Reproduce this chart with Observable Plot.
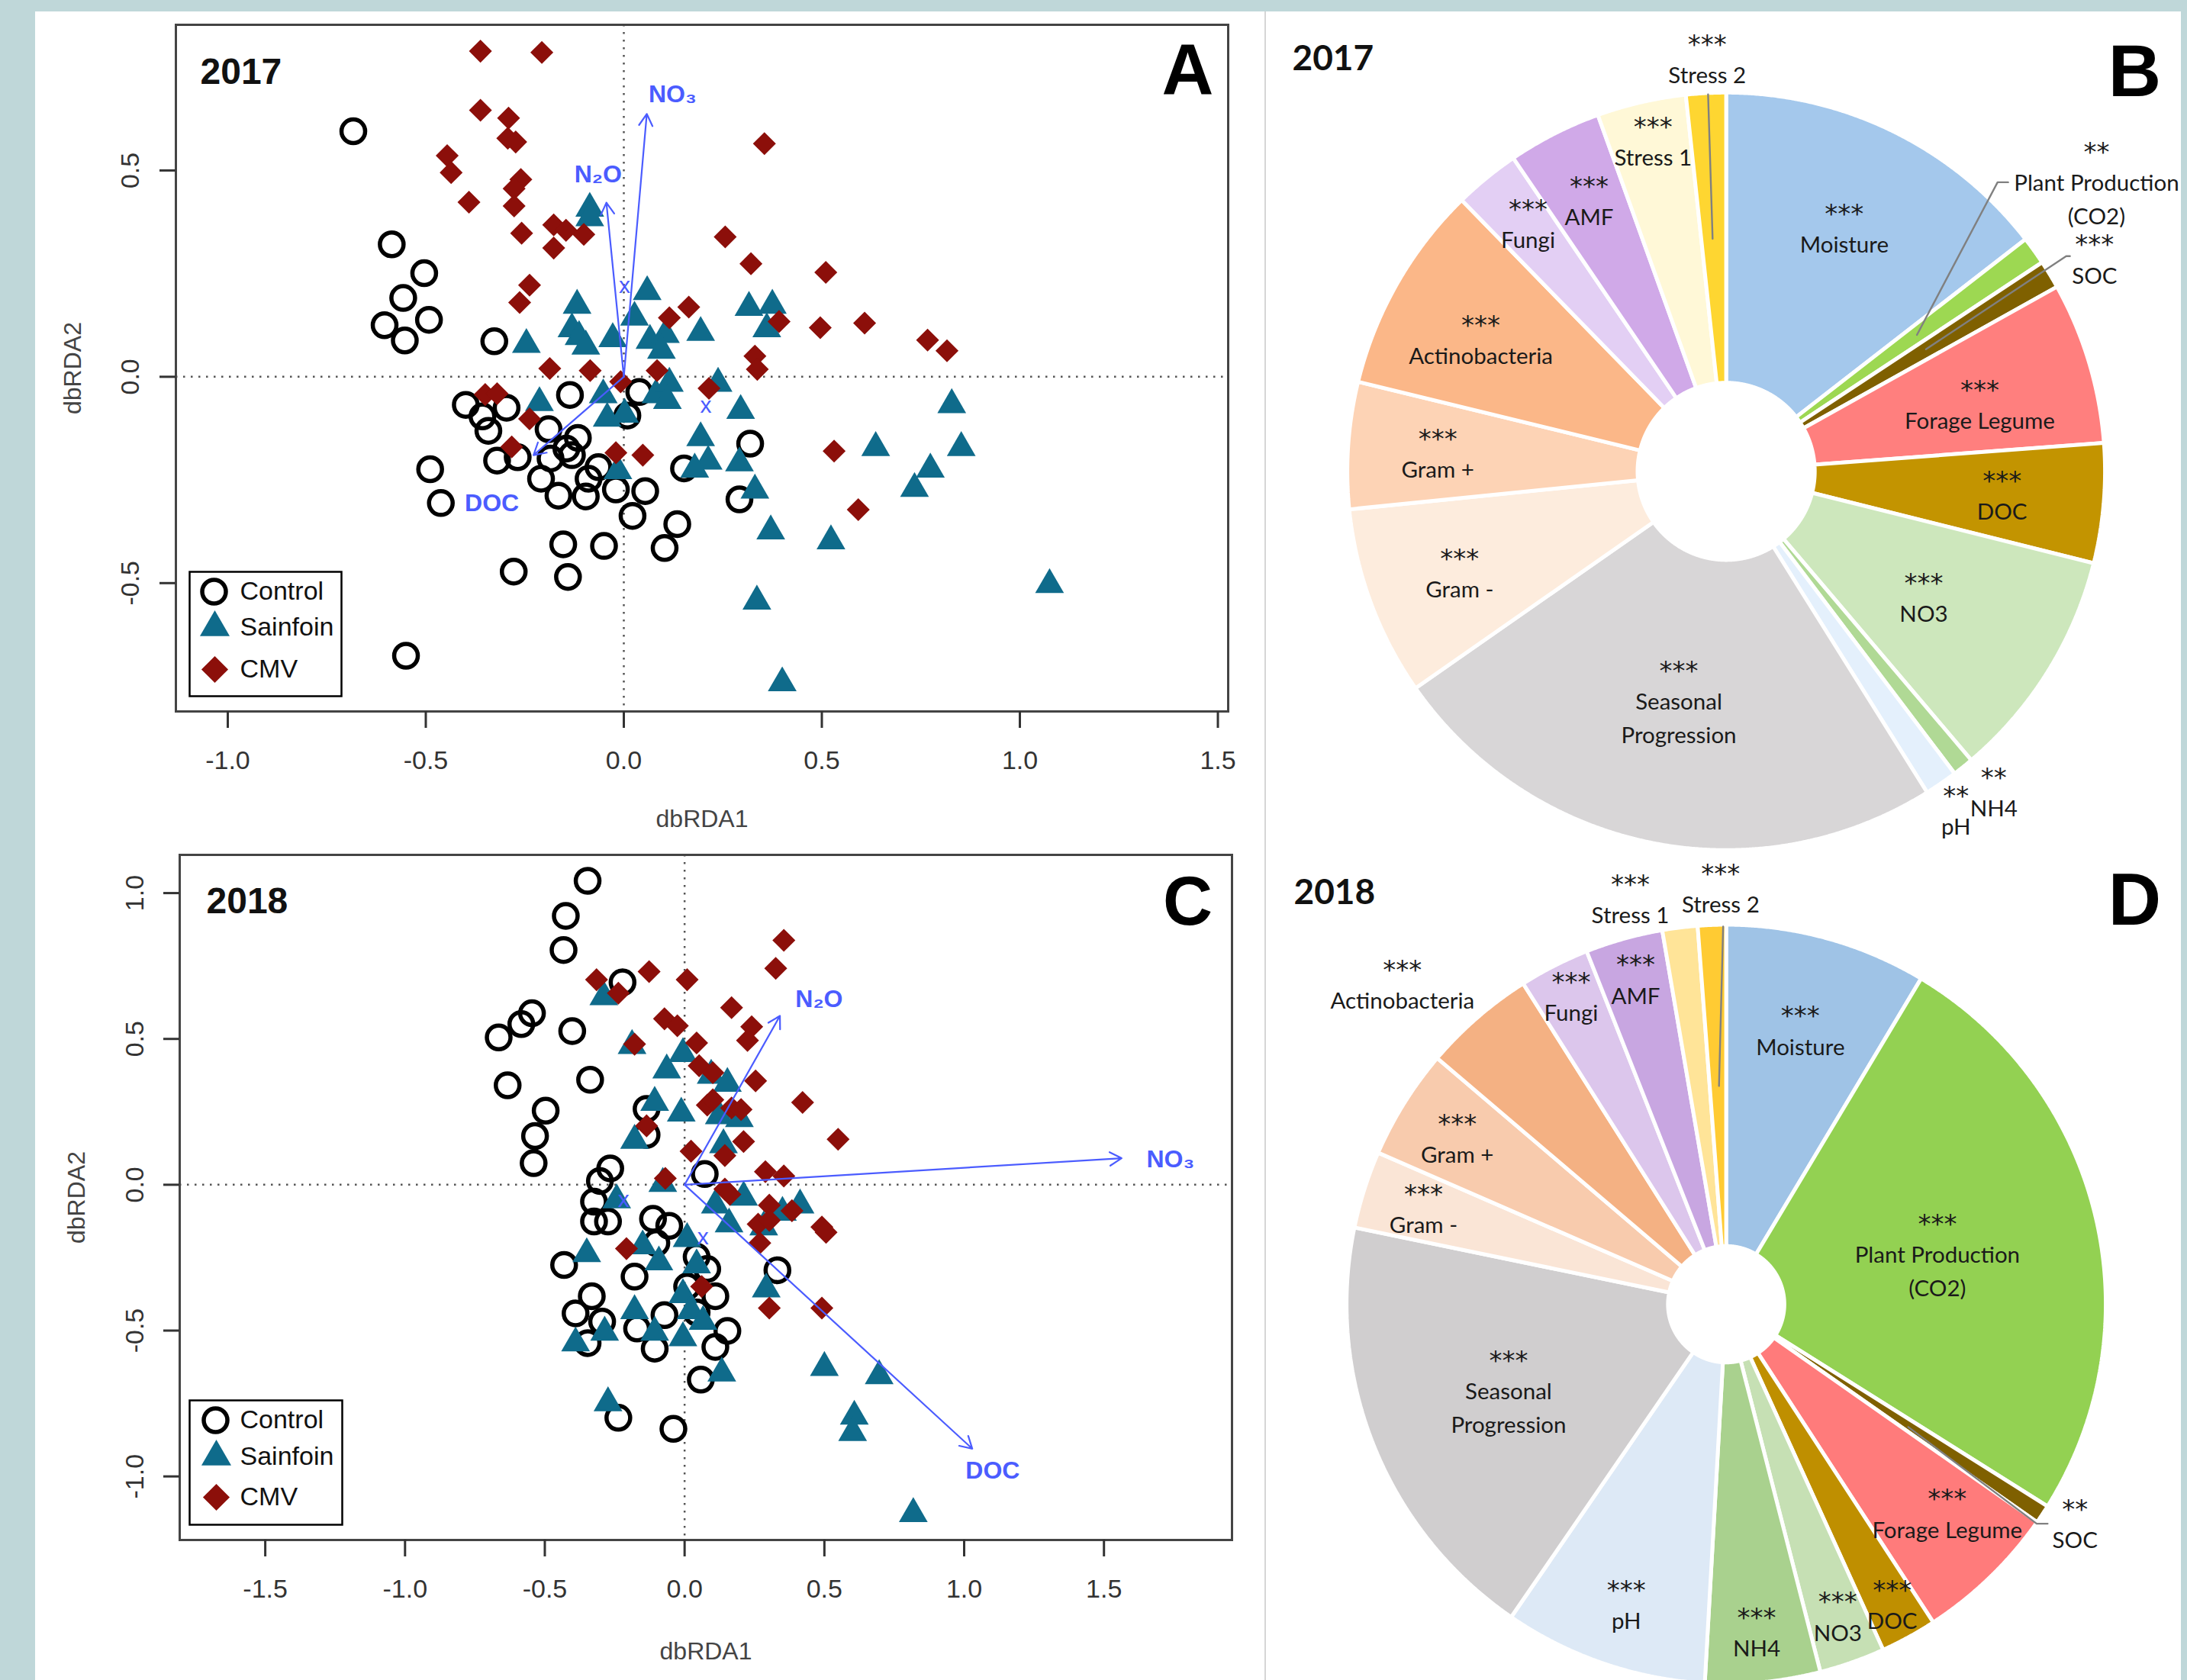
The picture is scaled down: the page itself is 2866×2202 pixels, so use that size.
<!DOCTYPE html>
<html><head><meta charset="utf-8">
<script src="https://cdn.jsdelivr.net/npm/d3@7"></script>
<script src="https://cdn.jsdelivr.net/npm/@observablehq/plot@0.6"></script>
<style>
html,body{margin:0;padding:0;}
body{width:2866px;height:2202px;background:#bfd7d9;position:relative;overflow:hidden;}
#sheet{position:absolute;left:46px;top:15px;width:2812px;height:2187px;background:#fff;}
#divider{position:absolute;left:1657px;top:15px;width:2px;height:2187px;background:#d6d6d6;}
.panel{position:absolute;}
.panel svg{display:block;max-width:none;}
</style></head><body>
<div id="sheet"></div><div id="divider"></div>
<div class="panel" id="pA" style="left:46px;top:15px;width:1612px;height:1085px"></div>
<div class="panel" id="pC" style="left:46px;top:1100px;width:1612px;height:1102px"></div>
<div class="panel" id="pB" style="left:1660px;top:15px;width:1198px;height:1105px"></div>
<div class="panel" id="pD" style="left:1660px;top:1120px;width:1198px;height:1082px"></div>
<script>
// ---------------- DATA ----------------
const control2017 = [[-0.683,0.595],[-0.586,0.321],[-0.504,0.251],[-0.557,0.191],[-0.492,0.138],[-0.604,0.125],[-0.553,0.088],[-0.327,0.086],[-0.136,-0.044],[0.039,-0.037],[-0.399,-0.068],[-0.296,-0.075],[-0.357,-0.096],[-0.342,-0.131],[-0.190,-0.127],[-0.116,-0.148],[-0.145,-0.174],[-0.131,-0.190],[-0.320,-0.203],[-0.268,-0.195],[-0.185,-0.198],[-0.209,-0.247],[-0.165,-0.288],[-0.096,-0.290],[-0.089,-0.247],[-0.064,-0.219],[-0.020,-0.273],[0.054,-0.277],[0.022,-0.337],[0.135,-0.357],[0.103,-0.415],[-0.050,-0.410],[-0.153,-0.406],[-0.278,-0.472],[-0.141,-0.485],[-0.489,-0.224],[-0.462,-0.306],[-0.550,-0.676],[0.009,-0.094],[0.152,-0.222],[0.319,-0.162],[0.292,-0.297]];
const sainfoin2017 = [[-0.086,0.408],[-0.086,0.385],[-0.118,0.173],[0.059,0.206],[0.027,0.144],[-0.131,0.116],[-0.113,0.097],[-0.096,0.074],[-0.246,0.078],[-0.028,0.092],[0.066,0.088],[0.105,0.102],[0.095,0.064],[0.194,0.107],[0.316,0.168],[0.375,0.173],[0.361,0.116],[-0.213,-0.063],[-0.052,-0.044],[-0.042,-0.101],[0.002,-0.091],[0.081,-0.044],[0.115,-0.016],[0.110,-0.058],[0.238,-0.016],[0.295,-0.082],[0.194,-0.148],[0.213,-0.205],[0.179,-0.224],[0.292,-0.209],[0.331,-0.275],[0.371,-0.374],[0.523,-0.398],[0.336,-0.544],[0.400,-0.742],[-0.015,-0.228],[0.636,-0.172],[0.734,-0.271],[0.774,-0.224],[0.828,-0.068],[0.852,-0.172],[1.075,-0.504]];
const cmv2017 = [[-0.362,0.789],[-0.207,0.786],[-0.362,0.646],[-0.291,0.627],[-0.293,0.578],[-0.273,0.569],[-0.446,0.536],[-0.436,0.495],[-0.260,0.478],[-0.277,0.456],[-0.391,0.423],[-0.277,0.414],[-0.258,0.348],[-0.177,0.368],[-0.146,0.355],[-0.101,0.345],[-0.177,0.312],[-0.238,0.222],[-0.263,0.180],[0.355,0.565],[0.256,0.339],[0.321,0.274],[0.510,0.253],[0.164,0.169],[0.115,0.143],[0.392,0.134],[0.496,0.119],[0.608,0.130],[0.767,0.089],[0.816,0.063],[0.331,0.050],[0.337,0.018],[-0.187,0.020],[-0.085,0.015],[0.084,0.015],[-0.008,-0.012],[0.215,-0.028],[-0.350,-0.043],[-0.320,-0.041],[-0.238,-0.102],[-0.283,-0.170],[-0.020,-0.184],[0.048,-0.190],[0.531,-0.180],[0.592,-0.322]];

const control2018 = [[-0.347,1.042],[-0.425,0.922],[-0.433,0.805],[-0.222,0.694],[-0.546,0.588],[-0.584,0.551],[-0.665,0.505],[-0.402,0.527],[-0.633,0.341],[-0.338,0.360],[-0.497,0.254],[-0.535,0.167],[-0.540,0.074],[-0.136,0.260],[-0.136,0.171],[-0.266,0.056],[-0.303,0.013],[0.072,0.037],[-0.324,-0.058],[-0.324,-0.126],[-0.274,-0.126],[-0.113,-0.117],[-0.055,-0.141],[-0.101,-0.200],[0.043,-0.247],[0.081,-0.289],[0.332,-0.293],[-0.431,-0.275],[-0.179,-0.315],[-0.332,-0.382],[0.009,-0.349],[0.110,-0.382],[-0.390,-0.441],[-0.295,-0.469],[-0.072,-0.447],[0.043,-0.438],[0.153,-0.501],[-0.170,-0.493],[-0.347,-0.543],[-0.107,-0.562],[0.110,-0.556],[0.058,-0.668],[-0.237,-0.799],[-0.040,-0.837]];
const sainfoin2018 = [[-0.289,0.644],[-0.188,0.477],[-0.006,0.449],[-0.064,0.393],[0.095,0.375],[0.153,0.347],[-0.107,0.282],[-0.012,0.245],[0.124,0.236],[0.196,0.226],[-0.179,0.152],[0.139,0.137],[-0.078,0.004],[-0.243,-0.052],[0.110,-0.070],[0.211,-0.043],[0.350,-0.095],[0.413,-0.070],[0.159,-0.135],[0.283,-0.145],[0.009,-0.185],[-0.150,-0.210],[-0.092,-0.265],[-0.350,-0.237],[0.043,-0.275],[0.292,-0.358],[-0.006,-0.377],[0.023,-0.432],[-0.179,-0.432],[0.066,-0.469],[-0.107,-0.506],[-0.006,-0.525],[-0.286,-0.506],[-0.390,-0.543],[0.133,-0.646],[0.500,-0.627],[0.696,-0.655],[0.607,-0.794],[0.601,-0.850],[-0.274,-0.748],[0.818,-1.128]];
const cmv2018 = [[0.355,0.838],[0.326,0.742],[-0.127,0.731],[0.009,0.703],[-0.315,0.703],[-0.237,0.657],[0.168,0.607],[-0.072,0.569],[-0.026,0.545],[0.240,0.542],[0.225,0.495],[-0.179,0.482],[0.043,0.486],[0.052,0.408],[0.101,0.384],[0.254,0.356],[0.422,0.282],[0.081,0.273],[0.101,0.291],[0.168,0.263],[0.202,0.258],[-0.136,0.202],[0.211,0.148],[0.549,0.156],[0.023,0.115],[0.144,0.100],[0.289,0.045],[0.355,0.030],[-0.069,0.022],[0.144,-0.015],[0.162,-0.033],[0.303,-0.070],[0.384,-0.089],[0.263,-0.135],[0.303,-0.122],[0.491,-0.145],[0.506,-0.163],[0.269,-0.200],[-0.208,-0.219],[0.061,-0.349],[0.303,-0.423],[0.491,-0.423]];

const vectorNames = ["NO\u2083", "N\u2082O", "DOC"];
const vectors2017 = [[0.058,0.637],[-0.044,0.422],[-0.228,-0.190]];
const vectorLabels2017 = [[0.123,0.685],[-0.065,0.491],[-0.333,-0.306]];
const vectors2018 = [[1.563,0.091],[0.341,0.579],[1.029,-0.905]];
const vectorLabels2018 = [[1.738,0.087],[0.481,0.635],[1.102,-0.980]];
const centroids2017 = [[0.002,0.221],[0.207,-0.069]];
const centroids2018 = [[0.066,-0.178],[-0.218,-0.050]];

const groupNames = ["Control", "Sainfoin", "CMV"];
const xTicks2017 = [-1.0,-0.5,0,0.5,1.0,1.5];
const yTicks2017 = [-0.5,0,0.5];
const xTicks2018 = [-1.5,-1.0,-0.5,0,0.5,1.0,1.5];
const yTicks2018 = [-1.0,-0.5,0,0.5,1.0];

const pieCategories = ["Moisture","Plant Production\n(CO2)","SOC","Forage Legume","DOC","NO3","NH4","pH","Seasonal\nProgression","Gram -","Gram +","Actinobacteria","Fungi","AMF","Stress 1","Stress 2"];
const pie2017 = [14.5,1.2,1.2,6.9,5.1,9.9,0.9,1.4,24.2,8.1,5.4,8.9,2.8,4.0,3.8,1.7];
const pie2018 = [8.6,25.4,0.8,6.1,2.4,2.8,4.9,8.7,18.7,3.3,4.7,4.8,3.0,3.3,1.5,1.2];
const sig2017 = ["***","**","***","***","***","***","**","**","***","***","***","***","***","***","***","***"];
const sig2018 = ["***","***","**","***","***","***","***","***","***","***","***","***","***","***","***","***"];

// ---------------- STYLES / LAYOUT ----------------
const colors2017 = ["#a4c8ec","#9dd852","#7f6000","#ff7f7e","#c39400","#cde7bc","#b0d995","#e4f0fc","#d8d6d7","#fdecdd","#fdd3b5","#fbb788","#e3cff4","#d0a9e8","#fff8d7","#fed631"];
const colors2018 = ["#9fc3e6","#93d152","#7f6000","#ff7b7b","#bf8f00","#c6e0b4","#a9d18e","#dde9f6","#d0cecf","#fae5d6","#f8cbad","#f4b183","#dcc6ec","#c8a6e1","#ffe498","#ffcb33"];
// label placement: [angle offset from slice middle (deg), radius as fraction of pie radius]
const labelLayout2017 = [[-0.5,0.725],[-2.55,1.25],[1.0,1.132],[1.3,0.698],[-0.55,0.734],[0,0.617],[-1.4,1.102],[0.2,1.08],[0.25,0.616],[0,0.754],[0.3,0.767],[-0.85,0.743],[0.95,0.848],[0.4,0.812],[0.6,0.906],[0.45,1.104]];
const labelLayout2018 = [[-0.45,0.759],[-0.4,0.576],[-1.75,1.087],[-3.0,0.80],[-0.45,0.901],[-0.45,0.870],[0.2,0.864],[-0.3,0.830],[0.7,0.618],[0.5,0.843],[0.2,0.841],[-4.1,1.211],[0.45,0.920],[0.2,0.901],[-6.2,1.111],[1.4,1.110]];
const leaders2017 = [[[-0.036,0.617],[-0.048,1.0]],[[0.506,0.362],[0.720,0.767],[0.748,0.767]],[[0.530,0.324],[0.902,0.571],[0.912,0.571]]];
const leaders2018 = [[[-0.019,0.578],[-0.008,1.0]],[[0.482,-0.325],[0.822,-0.581],[0.851,-0.581]]];

const TEAL = "#0f6b8b", RED = "#8c0f0a", BLUE = "#4b5cff";
const RFONT = "'Liberation Sans', Arial, Helvetica, sans-serif";
const PFONT = "Lato, 'Open Sans', sans-serif";
const STARFONT = "'DejaVu Sans', sans-serif";

const px = d => d[0], py = d => d[1];

function scatter(o) {
  const vec = o.vectors.map((v, i) => ({x: v[0], y: v[1], lx: o.vlabels[i][0], ly: o.vlabels[i][1], name: vectorNames[i]}));
  const L = o.legend;
  return Plot.plot({
    width: o.width, height: o.height,
    marginLeft: o.m[0], marginRight: o.m[1], marginTop: o.m[2], marginBottom: o.m[3],
    x: {domain: o.xd}, y: {domain: o.yd},
    style: {background: "transparent", fontFamily: RFONT, overflow: "visible"},
    marks: [
      Plot.ruleX([0], {stroke: "#555", strokeWidth: 2.5, strokeDasharray: "2.5,7.5"}),
      Plot.ruleY([0], {stroke: "#555", strokeWidth: 2.5, strokeDasharray: "2.5,7.5"}),
      Plot.dot(o.control, {x: px, y: py, r: 15.5, stroke: "#000", strokeWidth: 5.5, fill: "none"}),
      Plot.dot(o.sainfoin, {x: px, y: py, symbol: "triangle", r: 14, fill: TEAL}),
      Plot.dot(o.cmv, {x: px, y: py, symbol: "square", rotate: 45, r: 12, fill: RED}),
      Plot.arrow(vec, {x1: () => 0, y1: () => 0, x2: "x", y2: "y", stroke: BLUE, strokeWidth: 2.2, headLength: 12}),
      Plot.text(vec, {x: "lx", y: "ly", text: "name", fill: BLUE, fontWeight: "bold", fontSize: 32}),
      Plot.text(o.centroids, {x: px, y: py, text: () => "x", fill: BLUE, fontSize: 30}),
      Plot.frame({stroke: "#444", strokeWidth: 3}),
      Plot.axisX({ticks: o.xt, tickFormat: d => d.toFixed(1), tickSize: 22, tickPadding: 29, fontSize: 34, strokeWidth: 3, color: "#333", label: null}),
      Plot.axisY({ticks: o.yt, tickFormat: d => d.toFixed(1), tickRotate: -90, tickSize: 21, tickPadding: o.yPad, fontSize: 34, strokeWidth: 3, color: "#333", label: null}),
      Plot.text(["dbRDA1"], {frameAnchor: "bottom", dy: o.xTitleDy, textAnchor: "middle", lineAnchor: "middle", fontSize: 32, fill: "#444"}),
      Plot.text(["dbRDA2"], {frameAnchor: "left", dx: -135, rotate: -90, textAnchor: "middle", lineAnchor: "middle", fontSize: 32, fill: "#444"}),
      Plot.text([o.year], {frameAnchor: "top-left", dx: o.yearAt[0], dy: o.yearAt[1], textAnchor: "start", lineAnchor: "bottom", fontSize: 48, fontWeight: "bold", fill: "#111"}),
      Plot.text([o.letter], {frameAnchor: "top-right", dx: o.letterAt[0], dy: o.letterAt[1], textAnchor: "middle", lineAnchor: "bottom", fontSize: o.letterSize, fontWeight: "bold", fill: "#000"}),
      Plot.frame({fill: "white", stroke: "#000", strokeWidth: 2.5, insetLeft: L.inset[0], insetRight: L.inset[1], insetTop: L.inset[2], insetBottom: L.inset[3]}),
      Plot.dot([0], {frameAnchor: "bottom-left", dx: L.sx, dy: L.dy[0], r: 15.5, stroke: "#000", strokeWidth: 5.5, fill: "none"}),
      Plot.dot([0], {frameAnchor: "bottom-left", dx: L.sx + 1, dy: L.dy[1], symbol: "triangle", r: 14.5, fill: TEAL}),
      Plot.dot([0], {frameAnchor: "bottom-left", dx: L.sx + 1, dy: L.dy[2], symbol: "square", rotate: 45, r: 14, fill: RED}),
      ...groupNames.map((g, i) => Plot.text([g], {frameAnchor: "bottom-left", dx: L.tx, dy: L.dy[i], textAnchor: "start", lineAnchor: "middle", fontSize: 34, fill: "#111"}))
    ]
  });
}

function pieChart(o) {
  const arcs = d3.pie().sort(null).value(d => d)(o.values);
  const outer = 1.005;
  const LINE = 44; // px between label lines
  const pts = [];
  arcs.forEach((a, i) => {
    const n = Math.max(4, Math.ceil((a.endAngle - a.startAngle) / 0.004));
    for (let k = 0; k <= n; k++) { const t = a.startAngle + (a.endAngle - a.startAngle) * k / n; pts.push({i, c: o.colors[i], x: outer * Math.sin(t), y: outer * Math.cos(t)}); }
    for (let k = n; k >= 0; k--) { const t = a.startAngle + (a.endAngle - a.startAngle) * k / n; pts.push({i, c: o.colors[i], x: o.hole * Math.sin(t), y: o.hole * Math.cos(t)}); }
  });
  const stars = [], names = [];
  arcs.forEach((a, i) => {
    const t = (a.startAngle + a.endAngle) / 2 + o.layout[i][0] * Math.PI / 180;
    const r = o.layout[i][1];
    const x = r * Math.sin(t), y = r * Math.cos(t);
    const n = pieCategories[i].split("\n").length + 1;
    stars.push({text: o.sig[i], x, y: y + ((n - 1) / 2 * LINE - 8) / o.R});
    names.push({text: pieCategories[i], x, y: y - (LINE / 2) / o.R});
  });
  const leaderPts = o.leaders.flatMap((line, j) => line.map(p => ({j, x: p[0], y: p[1]})));
  return Plot.plot({
    width: o.width, height: o.height, margin: 0,
    x: {domain: [-o.cx / o.R, (o.width - o.cx) / o.R], axis: null},
    y: {domain: [-(o.height - o.cy) / o.R, o.cy / o.R], axis: null},
    color: {type: "identity"},
    style: {background: "transparent", overflow: "visible"},
    marks: [
      Plot.line(pts, {x: "x", y: "y", z: "i", fill: "c", stroke: "white", strokeWidth: 5, curve: "linear-closed", strokeLinejoin: "miter"}),
      Plot.line(leaderPts, {x: "x", y: "y", z: "j", stroke: "#808080", strokeWidth: 2.4}),
      Plot.text(stars, {x: "x", y: "y", text: "text", fontSize: 34, fontFamily: STARFONT, lineAnchor: "middle", fill: "#1a1a1a"}),
      Plot.text(names, {x: "x", y: "y", text: "text", fontSize: 29.5, fontFamily: PFONT, lineHeight: LINE / 29.5, lineAnchor: "middle", fill: "#1a1a1a"}),
      Plot.text([o.year], {frameAnchor: "top-left", dx: o.yearAt[0], dy: o.yearAt[1], textAnchor: "start", lineAnchor: "bottom", fontSize: 46, fontWeight: "bold", fontFamily: PFONT, fill: "#111"}),
      Plot.text([o.letter], {frameAnchor: "top-left", dx: o.letterAt[0], dy: o.letterAt[1], textAnchor: "middle", lineAnchor: "bottom", fontSize: 96, fontWeight: "bold", fontFamily: RFONT, fill: "#000"})
    ]
  });
}

document.getElementById("pA").append(scatter({
  width: 1612, height: 1085, m: [184, 49, 17, 168],
  xd: [-1.131, 1.526], yd: [-0.811, 0.853], xt: xTicks2017, yt: yTicks2017, yPad: 28, xTitleDy: 141,
  control: control2017, sainfoin: sainfoin2017, cmv: cmv2017,
  vectors: vectors2017, vlabels: vectorLabels2017, centroids: centroids2017,
  year: "2017", yearAt: [32, 77], letter: "A", letterAt: [-53, 91], letterSize: 94,
  legend: {inset: [18, 1162, 717, 20], sx: 50, tx: 84, dy: [-157, -110, -55]}
}));
document.getElementById("pC").append(scatter({
  width: 1612, height: 1102, m: [189, 44, 20, 184],
  xd: [-1.806, 1.958], yd: [-1.218, 1.131], xt: xTicks2018, yt: yTicks2018, yPad: 27, xTitleDy: 146,
  control: control2018, sainfoin: sainfoin2018, cmv: cmv2018,
  vectors: vectors2018, vlabels: vectorLabels2018, centroids: centroids2018,
  year: "2018", yearAt: [35, 76], letter: "C", letterAt: [-58, 91], letterSize: 90,
  legend: {inset: [13, 1166, 715, 20], sx: 47, tx: 79, dy: [-157, -109, -56]}
}));
document.getElementById("pB").append(pieChart({
  width: 1198, height: 1105, cx: 601.6, cy: 602.3, R: 494, hole: 0.235,
  values: pie2017, colors: colors2017, sig: sig2017, layout: labelLayout2017, leaders: leaders2017,
  year: "2017", yearAt: [33, 76], letter: "B", letterAt: [1137, 110]
}));
document.getElementById("pD").append(pieChart({
  width: 1198, height: 1082, cx: 601.6, cy: 589, R: 495, hole: 0.154,
  values: pie2018, colors: colors2018, sig: sig2018, layout: labelLayout2018, leaders: leaders2018,
  year: "2018", yearAt: [35, 64], letter: "D", letterAt: [1137, 91]
}));
</script>
</body></html>
